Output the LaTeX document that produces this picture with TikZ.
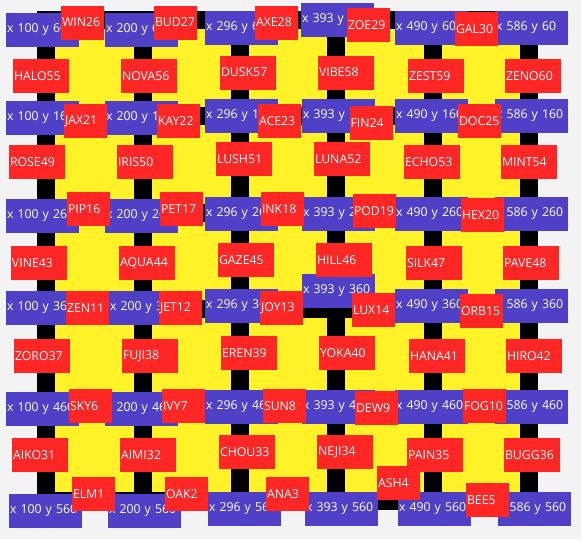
\documentclass[tikz,border=0pt]{standalone}
\usepackage{fontspec}
\setmainfont{Open Sans}
\usepackage{tikz}
\definecolor{gridyellow}{RGB}{255,242,40}
\definecolor{posblue}{RGB}{80,64,200}
\definecolor{tagred}{RGB}{255,38,38}
\definecolor{pagegray}{RGB}{243,243,243}

\begin{document}
\begin{tikzpicture}[
    x=1pt, y=-1pt,
    edge/.style={line width=18pt, line cap=rect, black},
    posbox/.style={rectangle, fill=posblue, text=white, text width=71pt, align=left, inner xsep=1pt, inner ysep=0pt, minimum height=34pt, font=\fontsize{12.3}{14}\selectfont},
    tagbox/.style={posbox, fill=tagred, text width=41pt},
    tagwide/.style={tagbox, text width=54pt}
]
\useasboundingbox (0,0) rectangle (581,539);
\fill[pagegray] (0,0) rectangle (581,539);

% grid points
\coordinate (g11) at (46,20);  \coordinate (g21) at (143,20);  \coordinate (g31) at (240,20);  \coordinate (g41) at (336,20);  \coordinate (g51) at (433,20);  \coordinate (g61) at (529,20);
\coordinate (g12) at (46,116); \coordinate (g22) at (143,116); \coordinate (g32) at (240,116); \coordinate (g42) at (336,116); \coordinate (g52) at (433,116); \coordinate (g62) at (529,116);
\coordinate (g13) at (46,213); \coordinate (g23) at (143,213); \coordinate (g33) at (240,213); \coordinate (g43) at (336,213); \coordinate (g53) at (433,213); \coordinate (g63) at (529,213);
\coordinate (g14) at (46,309); \coordinate (g24) at (143,309); \coordinate (g34) at (240,309); \coordinate (g44) at (336,309); \coordinate (g54) at (433,309); \coordinate (g64) at (529,309);
\coordinate (g15) at (46,405); \coordinate (g25) at (143,405); \coordinate (g35) at (240,405); \coordinate (g45) at (336,405); \coordinate (g55) at (433,405); \coordinate (g65) at (529,405);
\coordinate (g16) at (46,501); \coordinate (g26) at (143,501); \coordinate (g36) at (240,501); \coordinate (g46) at (336,501); \coordinate (g56) at (433,501); \coordinate (g66) at (529,501);

\fill[gridyellow] (g11) rectangle (g66);

% edges
\draw[edge] (g11) -- (g21) -- (g31) -- (g41) -- (g51) -- (g61);
\draw[edge] (g12) -- (g22) -- (g32) -- (g42) -- (g52) -- (g62);
\draw[edge] (g13) -- (g23) -- (g33) -- (g43) -- (g53) -- (g63);
\draw[edge] (g14) -- (g24) -- (g34) -- (g44) -- (g54) -- (g64);
\draw[edge] (g15) -- (g25) -- (g35) -- (g45) -- (g55) -- (g65);
\draw[edge] (g16) -- (g26) -- (g36) -- (g46) -- (g56) -- (g66);
\draw[edge] (g11) -- (g12) -- (g13) -- (g14) -- (g15) -- (g16);
\draw[edge] (g21) -- (g22) -- (g23) -- (g24) -- (g25) -- (g26);
\draw[edge] (g31) -- (g32) -- (g33) -- (g34) -- (g35) -- (g36);
\draw[edge] (g41) -- (g42) -- (g43) -- (g44) -- (g45) -- (g46);
\draw[edge] (g51) -- (g52) -- (g53) -- (g54) -- (g55) -- (g56);
\draw[edge] (g61) -- (g62) -- (g63) -- (g64) -- (g65) -- (g66);

% position labels
\node[posbox] (p100-60) at (42.5,30) {x 100 y 60};
\node[posbox] (p200-60) at (141.5,30) {x 200 y 60};
\node[posbox] (p296-60) at (241.5,27.5) {x 296 y 60};
\node[posbox] (p393-60) at (337.5,20) {x 393 y 60};
\node[posbox] (p490-60) at (431.5,27.5) {x 490 y 60};
\node[posbox] (p586-60) at (531.5,27.5) {x 586 y 60};
\node[posbox] (p100-160) at (42.5,118) {x 100 y 160};
\node[posbox] (p200-160) at (141.5,118) {x 200 y 160};
\node[posbox] (p296-160) at (241.5,116) {x 296 y 160};
\node[posbox] (p393-160) at (338.5,116) {x 393 y 160};
\node[posbox] (p490-160) at (431.5,116) {x 490 y 160};
\node[posbox] (p586-160) at (531.5,116) {x 586 y 160};
\node[posbox] (p100-260) at (42.5,216) {x 100 y 260};
\node[posbox] (p200-260) at (141.5,216) {x 200 y 260};
\node[posbox] (p296-260) at (241.5,214) {x 296 y 260};
\node[posbox] (p393-260) at (338.5,214) {x 393 y 260};
\node[posbox] (p490-260) at (431.5,214) {x 490 y 260};
\node[posbox] (p586-260) at (531.5,214) {x 586 y 260};
\node[posbox] (p100-360) at (42.5,308) {x 100 y 360};
\node[posbox] (p200-360) at (145.5,308) {x 200 y 360};
\node[posbox] (p296-360) at (241.5,306) {x 296 y 360};
\node[posbox] (p393-360) at (338.5,291) {x 393 y 360};
\node[posbox] (p490-360) at (431.5,306) {x 490 y 360};
\node[posbox] (p586-360) at (531.5,306) {x 586 y 360};
\node[posbox] (p100-460) at (42.5,409) {x 100 y 460};
\node[posbox] (p200-460) at (141.5,409) {x 200 y 460};
\node[posbox] (p296-460) at (241.5,406.5) {x 296 y 460};
\node[posbox] (p393-460) at (338.5,406.5) {x 393 y 460};
\node[posbox] (p490-460) at (431.5,406.5) {x 490 y 460};
\node[posbox] (p586-460) at (531.5,406.5) {x 586 y 460};
\node[posbox] (p100-560) at (45.5,511) {x 100 y 560};
\node[posbox] (p200-560) at (144.5,511) {x 200 y 560};
\node[posbox] (p296-560) at (244.5,509) {x 296 y 560};
\node[posbox] (p393-560) at (341.5,509) {x 393 y 560};
\node[posbox] (p490-560) at (434.5,509) {x 490 y 560};
\node[posbox] (p586-560) at (534.5,509) {x 586 y 560};

% edge labels, rows
\node[tagbox] (win26) at (82.5,22.5) {WIN26};
\node[tagbox] (bud27) at (175.5,22.5) {BUD27};
\node[tagbox] (axe28) at (276.5,22.5) {AXE28};
\node[tagbox] (zoe29) at (368.5,25) {ZOE29};
\node[tagbox] (gal30) at (476.5,29) {GAL30};
\node[tagbox] (jax21) at (85.5,121) {JAX21};
\node[tagbox] (kay22) at (178.5,121) {KAY22};
\node[tagbox] (ace23) at (279.5,121) {ACE23};
\node[tagbox] (fin24) at (371,123) {FIN24};
\node[tagbox] (doc25) at (479.5,121) {DOC25};
\node[tagbox] (pip16) at (88.5,209) {PIP16};
\node[tagbox] (pet17) at (181.5,209) {PET17};
\node[tagbox] (ink18) at (282.5,209) {INK18};
\node[tagbox] (pod19) at (374.5,211) {POD19};
\node[tagbox] (hex20) at (482.5,215) {HEX20};
\node[tagbox] (zen11) at (87.5,308) {ZEN11};
\node[tagbox] (jet12) at (180.5,308) {JET12};
\node[tagbox] (joy13) at (281.5,308) {JOY13};
\node[tagbox] (lux14) at (373.5,310) {LUX14};
\node[tagbox] (orb15) at (481.5,311) {ORB15};
\node[tagbox] (sky6) at (90.5,406) {SKY6};
\node[tagbox] (ivy7) at (183.5,406) {IVY7};
\node[tagbox] (sun8) at (284.5,406) {SUN8};
\node[tagbox] (dew9) at (376.5,408) {DEW9};
\node[tagbox] (fog10) at (484.5,406) {FOG10};
\node[tagbox] (elm1) at (93.5,494) {ELM1};
\node[tagbox] (oak2) at (186.5,494) {OAK2};
\node[tagbox] (ana3) at (287.5,494) {ANA3};
\node[tagbox] (ash4) at (398.5,483) {ASH4};
\node[tagbox] (bee5) at (487.5,500) {BEE5};

% edge labels, columns
\node[tagwide] (halo55) at (41,76) {HALO55};
\node[tagwide] (nova56) at (149,76) {NOVA56};
\node[tagwide] (dusk57) at (248,72.5) {DUSK57};
\node[tagwide] (vibe58) at (346,72.5) {VIBE58};
\node[tagwide] (zest59) at (436,76) {ZEST59};
\node[tagwide] (zeno60) at (533,76) {ZENO60};
\node[tagwide] (rose49) at (37,162) {ROSE49};
\node[tagwide] (iris50) at (145,162) {IRIS50};
\node[tagwide] (lush51) at (244,159) {LUSH51};
\node[tagwide] (luna52) at (342,159) {LUNA52};
\node[tagwide] (echo53) at (432,162) {ECHO53};
\node[tagwide] (mint54) at (529,162) {MINT54};
\node[tagwide] (vine43) at (39,263) {VINE43};
\node[tagwide] (aqua44) at (147,263) {AQUA44};
\node[tagwide] (gaze45) at (246,260) {GAZE45};
\node[tagwide] (hill46) at (344,260) {HILL46};
\node[tagwide] (silk47) at (434,263) {SILK47};
\node[tagwide] (pave48) at (531,263) {PAVE48};
\node[tagwide] (zoro37) at (42,356) {ZORO37};
\node[tagwide] (fuji38) at (150,356) {FUJI38};
\node[tagwide] (eren39) at (249,353) {EREN39};
\node[tagwide] (yoka40) at (347,353) {YOKA40};
\node[tagwide] (hana41) at (437,356) {HANA41};
\node[tagwide] (hiro42) at (534,356) {HIRO42};
\node[tagwide] (aiko31) at (40,455) {AIKO31};
\node[tagwide] (aimi32) at (148,455) {AIMI32};
\node[tagwide] (chou33) at (247,452) {CHOU33};
\node[tagwide] (neji34) at (345,452) {NEJI34};
\node[tagwide] (pain35) at (435,455) {PAIN35};
\node[tagwide] (bugg36) at (532,455) {BUGG36};
\end{tikzpicture}
\end{document}
